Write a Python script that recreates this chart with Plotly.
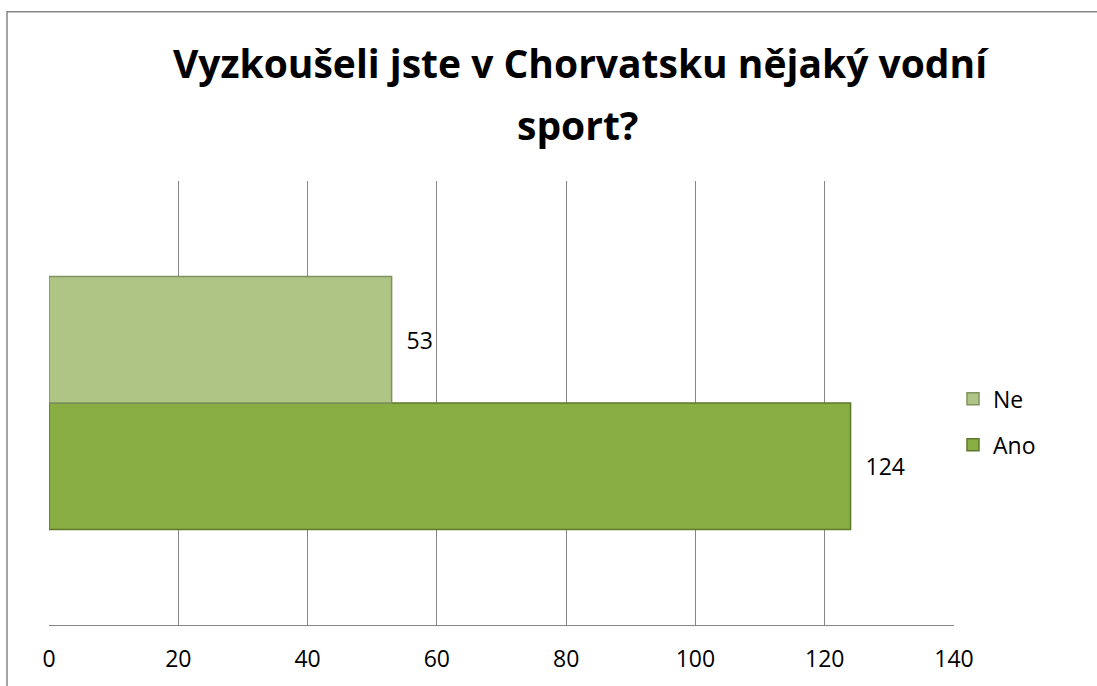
import plotly.graph_objects as go

categories = ["Vodní sport"]
series_names = ["Ano", "Ne"]
ano_values = [124]
ne_values = [53]
tick_values = [0, 20, 40, 60, 80, 100, 120, 140]
title_line1 = "Vyzkoušeli jste v Chorvatsku nějaký vodní"
title_line2 = "sport?"

FONT = "Open Sans"
W, H = 1097, 686
ML, MR, MT, MB = 49, 143, 181, 59
PW = W - ML - MR
PH = H - MT - MB

fig = go.Figure()
fig.add_trace(go.Bar(
    y=categories, x=ano_values, name=series_names[0], orientation="h",
    marker=dict(color="#88ad43", line=dict(color="#5d7a2c", width=1.5)),
    text=[f"  {v}" for v in ano_values], textposition="outside",
    textfont=dict(family=FONT, size=23, color="#000000"),
    legendgroup="a", legendrank=2, cliponaxis=False,
))
fig.add_trace(go.Bar(
    y=categories, x=ne_values, name=series_names[1], orientation="h",
    marker=dict(color="#aec585", line=dict(color="#7f925f", width=1.5)),
    text=[f"  {v}" for v in ne_values], textposition="outside",
    textfont=dict(family=FONT, size=23, color="#000000"),
    legendgroup="b", legendrank=1, cliponaxis=False,
))

fig.update_layout(
    width=W, height=H,
    margin=dict(l=ML, r=MR, t=MT, b=MB),
    paper_bgcolor="white", plot_bgcolor="white",
    barmode="group", bargap=0.43, bargroupgap=0,
    title=dict(text="<b>" + title_line1 + "</b>", x=580 / W, xanchor="center",
               y=1 - 64 / H, yanchor="middle",
               font=dict(family=FONT, size=39, color="#000000")),
    annotations=[dict(text="<b>" + title_line2 + "</b>", xref="paper", yref="paper",
                      x=(577 - ML) / PW, xanchor="center",
                      y=1 + (MT - 124) / PH, yanchor="middle",
                      showarrow=False,
                      font=dict(family=FONT, size=39, color="#000000"))],
    font=dict(family=FONT, size=23, color="#000000"),
    showlegend=True,
    legend=dict(x=(953 - ML) / PW, xanchor="left", y=(MT + PH - 423) / PH, yanchor="middle",
                traceorder="grouped", tracegroupgap=13,
                font=dict(family=FONT, size=23, color="#000000"),
                itemwidth=30, bgcolor="rgba(0,0,0,0)"),
    xaxis=dict(range=[0, 140], tickvals=tick_values, showgrid=True,
               gridcolor="#878787", gridwidth=1, zeroline=False,
               showline=True, linecolor="#878787", linewidth=1,
               ticks="", ticklabelstandoff=13,
               tickfont=dict(family=FONT, size=23, color="#000000"),
               fixedrange=True),
    yaxis=dict(showticklabels=False, showgrid=False, zeroline=False,
               showline=False, ticks="", fixedrange=True),
    shapes=[dict(type="rect", xref="paper", yref="paper",
                 x0=(7 - ML) / PW, x1=(1130 - ML) / PW,
                 y0=-0.4, y1=(PH + MT - 11) / PH,
                 line=dict(color="#878787", width=1.5), fillcolor="rgba(0,0,0,0)",
                 layer="below")],
)

fig.write_html(
    "out.html",
    config={"displayModeBar": False},
    post_script="document.body.style.margin='0';document.body.style.overflow='hidden';",
)
